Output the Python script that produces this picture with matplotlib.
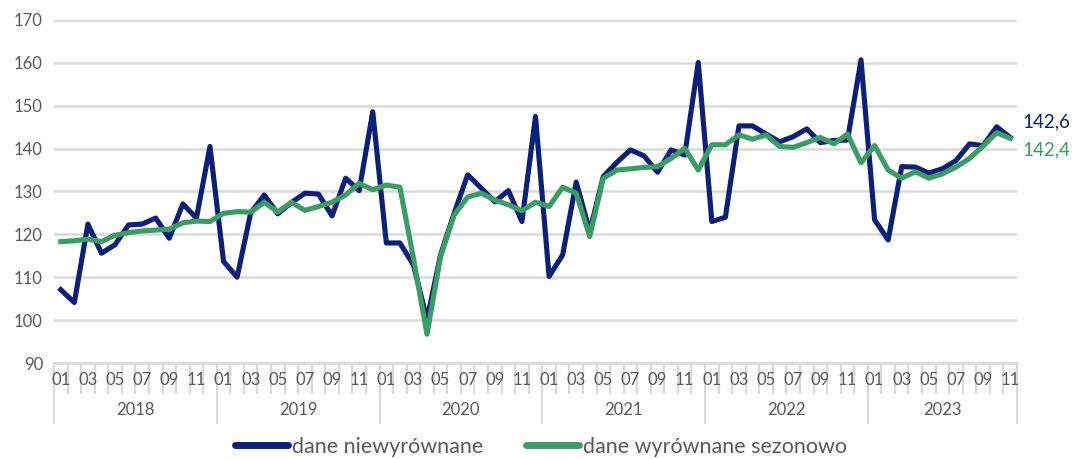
import matplotlib.pyplot as plt
import matplotlib.transforms as mtransforms
import numpy as np

plt.rcParams['font.family'] = ['Lato', 'DejaVu Sans']

years = ['2018', '2019', '2020', '2021', '2022', '2023']
month_labels = ['01', '03', '05', '07', '09', '11']

# dane niewyrównane, 2018-01 .. 2023-11
raw = [107.1, 104.1, 122.4, 115.6, 117.6, 122.2, 122.4, 123.8, 119.1, 127.1, 123.8, 140.5,
       113.7, 110.0, 125.0, 129.2, 124.8, 127.4, 129.6, 129.4, 124.3, 133.1, 130.2, 148.6,
       118.0, 118.0, 112.9, 100.1, 115.2, 124.9, 133.9, 130.8, 127.6, 130.2, 123.0, 147.5,
       110.2, 115.2, 132.2, 120.7, 133.5, 136.8, 139.7, 138.3, 134.5, 139.7, 138.5, 160.1,
       123.0, 124.0, 145.3, 145.3, 143.4, 141.6, 142.8, 144.6, 141.4, 141.9, 142.0, 160.7,
       123.4, 118.7, 135.8, 135.7, 134.3, 135.3, 137.2, 141.1, 140.7, 145.1, 142.6]

# dane wyrównane sezonowo
sa = [118.3, 118.5, 118.9, 118.3, 119.8, 120.4, 120.8, 121.0, 121.2, 122.7, 123.1, 123.0,
      124.9, 125.3, 125.2, 127.5, 125.2, 127.5, 125.6, 126.5, 127.5, 129.2, 131.9, 130.4,
      131.5, 131.0, 114.5, 96.7, 114.8, 124.5, 128.7, 129.6, 128.0, 126.9, 125.5, 127.5,
      126.5, 131.0, 129.6, 119.5, 133.1, 135.0, 135.3, 135.6, 135.8, 137.7, 140.1, 135.0,
      140.9, 140.9, 143.2, 142.2, 143.2, 140.5, 140.3, 141.4, 142.6, 141.1, 143.4, 136.7,
      140.7, 135.0, 133.1, 134.6, 133.1, 134.1, 135.7, 137.7, 140.6, 143.7, 142.4]

navy = '#0b2079'
green = '#3a9d64'
grey = '#595959'
grid = '#d9d9d9'

n = len(raw)
x = np.arange(n)
ax_h = 363 - 20

fig = plt.figure(figsize=(10.72, 4.59), dpi=100)
ax = fig.add_axes([54/1072, 1 - 363/459, (1017-54)/1072, ax_h/459])

ax.plot(x, raw, color=navy, lw=3.7, solid_joinstyle='round', label='dane niewyrównane', zorder=3)
ax.plot(x, sa, color=green, lw=3.7, solid_joinstyle='round', label='dane wyrównane sezonowo', zorder=4)

ax.set_xlim(-0.5, n - 0.5)
ax.set_ylim(90, 170)
ax.set_yticks(np.arange(90, 171, 10))
ax.yaxis.grid(True, color=grid, lw=1.8)
ax.set_axisbelow(True)
ax.tick_params(axis='y', length=0, pad=8, labelsize=12, labelcolor=grey)

for s in ['top', 'right', 'left']:
    ax.spines[s].set_visible(False)
ax.spines['bottom'].set_color(grid)
ax.spines['bottom'].set_linewidth(1.8)
ax.set_xticks([])

# multi-level category axis: month ticks, month labels, year separators
trans = mtransforms.blended_transform_factory(ax.transData, ax.transAxes)
for b in np.arange(-0.5, n, 1):
    ax.plot([b, b], [0, -30/ax_h], transform=trans, color=grid, lw=1.5, clip_on=False, zorder=1)
for i in range(0, n, 2):
    ax.text(i, -17/ax_h, month_labels[(i % 12) // 2], transform=trans, ha='center', va='center',
            fontsize=12, color=grey, zorder=5)
for i, yr in enumerate(years):
    start = i * 12 - 0.5
    end = min(start + 12, n - 0.5)
    ax.plot([start, start], [0, -60/ax_h], transform=trans, color=grid, lw=1.5, clip_on=False, zorder=1)
    ax.text((start + end) / 2, -47/ax_h, yr, transform=trans, ha='center', va='center',
            fontsize=12, color=grey)
ax.plot([n - 0.5, n - 0.5], [0, -60/ax_h], transform=trans, color=grid, lw=1.5, clip_on=False, zorder=1)

# end value labels
fig.text(1022/1072, 1 - 122/459, '142,6', color=navy, fontsize=13.5, va='center', ha='left')
fig.text(1022/1072, 1 - 150/459, '142,4', color=green, fontsize=13.5, va='center', ha='left')

leg = fig.legend(loc='center', bbox_to_anchor=(541/1072, 1 - 447/459), ncol=2, frameon=False,
                 fontsize=15.5, handlelength=2.45, handletextpad=0.2, columnspacing=2.0,
                 labelcolor=grey)
for line in leg.get_lines():
    line.set_linewidth(5)
    line.set_solid_capstyle('round')

fig.savefig('out.png', dpi=100)
